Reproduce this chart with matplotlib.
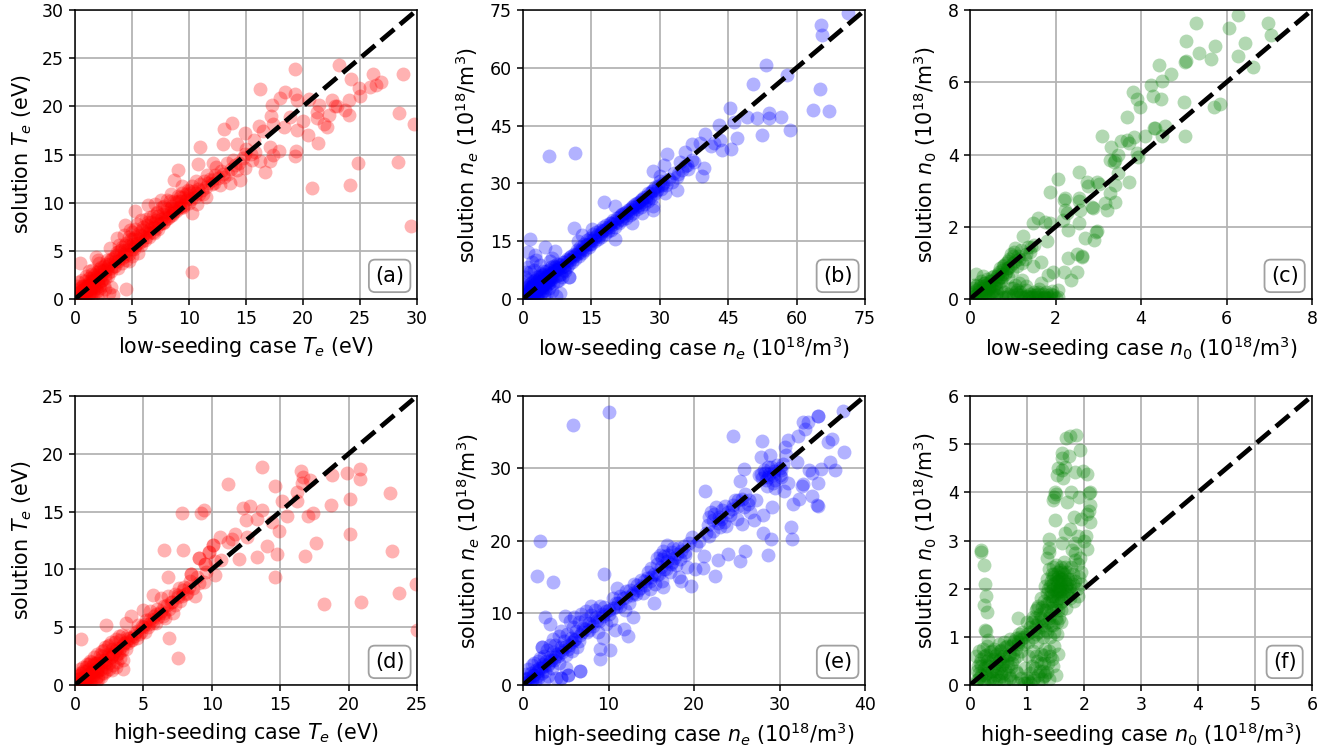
import matplotlib
matplotlib.use('Agg')
import matplotlib.pyplot as plt

# points: (reference case, solution)
te_low = [(0.2,0.3),(0.3,0.1),(0.4,0.5),(0.5,0.3),(0.5,0.8),(0.6,0.2),(0.7,0.6),(0.8,1.0),(0.8,0.3),(0.9,0.7),
(1.0,1.2),(1.0,0.4),(1.1,0.9),(1.2,1.5),(1.2,0.6),(1.3,1.1),(1.4,1.8),(1.4,0.3),(1.5,1.3),(1.6,2.0),(1.6,0.8),
(1.7,1.5),(1.8,2.3),(1.8,1.1),(1.9,0.2),(2.0,1.8),(2.0,2.6),(2.1,1.4),(2.2,2.2),(2.2,3.0),(2.3,0.5),(2.4,2.0),
(2.4,2.9),(2.5,3.4),(2.6,2.5),(2.6,1.0),(2.8,3.1),(2.8,4.0),(2.9,2.4),(3.0,3.6),(3.0,0.6),(3.2,2.9),(3.2,4.2),
(3.4,3.4),(3.3,0.4),(3.2,1.2),(0.4,3.7),(0.3,1.8),(0.2,1.3),(0.6,2.0),(1.0,2.4),(1.5,3.0),(1.8,4.4),(2.1,3.7),
(2.0,4.1),(1.2,2.9),(3.5,3.9),(3.6,4.6),(3.8,3.2),(3.9,4.3),(4.0,5.1),(4.1,3.7),(4.3,4.7),(4.4,5.6),(4.5,4.0),
(4.6,5.1),(4.7,3.9),(4.9,5.5),(5.0,4.5),(5.1,6.2),(5.2,5.2),(5.4,5.8),(5.5,4.8),(5.6,6.9),(5.8,5.6),(5.0,7.0),
(5.3,9.1),(4.4,7.7),(3.7,6.3),(3.1,5.3),(4.5,1.0),(3.9,5.6),(4.7,6.4),(4.3,6.6),(5.3,7.3),(5.9,6.5),(6.0,7.5),
(6.1,6.1),(6.3,7.0),(6.4,8.0),(6.5,6.4),(6.7,7.4),(6.8,8.6),(6.9,6.9),(7.0,7.9),(7.2,9.0),(7.3,7.3),(7.5,8.3),
(7.6,9.6),(7.8,8.0),(8.0,9.0),(8.1,10.3),(8.2,8.4),(8.4,9.4),(8.5,8.7),(8.7,10.2),(8.8,9.2),(9.0,10.7),(9.1,9.6),
(9.3,10.2),(9.4,11.0),(9.5,9.5),(9.7,10.3),(9.9,11.3),(10.0,10.0),(10.1,11.0),(10.3,8.9),(10.3,11.7),(10.5,10.6),
(10.7,9.9),(10.8,11.4),(11.0,11.9),(11.2,10.9),(11.5,10.6),(11.6,12.9),(11.7,12.0),(12.0,11.9),(12.3,12.9),
(12.7,11.8),(13.0,13.0),(13.3,14.1),(13.6,12.0),(13.9,14.4),(14.2,13.4),(12.1,14.1),(6.4,9.8),(7.0,9.9),(7.5,10.3),
(8.3,10.2),(9.2,10.6),(10.0,11.2),(10.8,14.0),(9.0,13.4),(8.7,12.4),(14.5,12.4),(14.9,13.6),(15.5,14.4),(16.2,14.3),
(16.7,13.2),(17.1,14.3),(17.4,15.0),(17.9,15.4),(17.1,15.8),(15.7,16.5),(14.9,15.1),(19.4,15.4),(19.3,14.8),
(21.3,16.2),(20.4,17.0),(22.1,17.9),(19.5,17.5),(14.9,17.2),(16.5,17.4),(18.3,17.9),(20.0,18.5),(21.8,18.2),
(21.2,18.8),(21.2,19.4),(22.3,19.1),(24.0,19.1),(23.7,19.6),(22.8,20.0),(22.5,20.7),(21.4,20.1),(20.5,20.8),
(19.5,20.7),(19.3,21.3),(18.4,21.5),(18.0,20.9),(17.3,20.1),(17.2,19.0),(18.9,18.9),(17.4,18.2),(16.1,18.0),
(13.8,18.3),(13.1,17.6),(13.0,16.1),(14.2,16.1),(11.0,15.8),(16.2,21.8),(19.3,23.9),(23.2,24.3),(26.1,23.4),
(26.8,22.5),(24.2,22.8),(25.9,22.0),(24.9,21.9),(25.0,21.1),(24.0,20.7),(23.0,20.0),(26.4,22.2),(28.8,23.4),
(28.4,19.3),(29.7,18.2),(28.3,14.2),(29.5,7.6),(24.1,11.8),(24.8,14.1),(20.8,11.5),(10.3,2.8)]
# the solid part of the cloud in (a)
te_low_dense = [(0.3,0.6),(0.6,0.9),(0.7,1.3),(0.9,1.4),(1.1,1.6),(1.3,1.9),(1.5,2.2),(1.7,2.5),(1.9,2.8),(2.1,3.1),
(2.3,3.3),(2.5,3.0),(2.7,3.6),(2.9,3.4),(3.1,3.9),(3.3,4.3),(3.5,4.4),(3.7,4.9),(3.9,5.0),(4.1,5.4),(4.3,5.1),
(4.5,5.8),(4.7,5.6),(4.9,6.2),(5.1,5.7),(5.3,6.4),(5.5,6.2),(5.7,6.6),(5.9,7.2),(6.1,6.9),(6.3,7.7),(6.5,7.2),
(6.7,8.0),(6.9,7.5),(7.1,8.2),(7.3,8.6),(7.5,7.9),(7.7,8.8),(7.9,8.5),(8.1,9.3),(8.3,8.9),(8.5,9.7),(8.7,9.3),
(8.9,10.1),(9.1,10.2),(9.3,9.7),(9.5,10.6),(9.7,10.9),(9.9,10.5),(10.2,10.4),(10.4,11.2),(10.6,11.0),(10.9,10.9),
(11.1,11.3),(11.3,12.3),(11.5,11.6),(11.8,12.5),(12.0,12.4),(12.2,12.0),(12.5,12.6),(12.8,13.3),(13.1,12.7),(13.4,13.0),
(13.7,13.5),(14.0,13.9),(14.4,14.1),(14.7,14.6),(15.0,15.6),(15.4,15.1),(15.8,15.3),(1.0,0.7),(1.4,1.0),(1.7,1.2),
(2.0,1.6),(2.3,1.9),(2.6,2.2),(2.9,2.7),(3.2,3.2),(3.5,3.4),(3.8,3.9),(4.1,4.3),(4.4,4.5),(4.7,4.7),(5.0,5.2),
(5.3,5.5),(5.6,5.8),(5.9,6.0),(6.2,6.4),(6.5,6.8),(6.8,7.0),(7.1,7.4),(7.4,7.8),(7.7,7.9),(8.0,8.3),(8.3,8.6),
(8.6,8.9),(8.9,9.1),(9.2,9.4),(9.6,9.8),(0.2,0.9),(0.4,1.1),(0.6,1.4),(0.9,1.9),(1.2,2.2),(1.5,2.6),(0.5,0.1),(0.8,0.6),
(1.1,0.2),(1.3,0.6),(1.6,0.4),(1.9,0.8),(2.2,1.1),(2.5,1.5),(1.1,1.3),(1.4,1.5),(1.7,1.9),(2.0,2.2),(2.3,2.5),(2.6,2.9),
(6.2,8.3),(6.6,8.5),(7.2,8.9),(7.8,9.7),(5.4,7.8),(5.8,8.2),(4.8,7.2),(8.4,10.9),(9.4,11.7),(10.6,12.2),(12.4,13.7)]

ne_low = [(0.2,0.5),(0.4,0.2),(0.5,1.0),(0.6,0.4),(0.8,1.3),(0.9,0.3),(1.0,2.0),(1.1,0.9),(1.2,1.6),(1.3,0.5),
(1.4,2.5),(1.5,1.2),(1.6,2.0),(1.7,0.6),(1.8,3.0),(1.9,1.6),(2.0,2.6),(2.1,0.8),(2.2,3.6),(2.3,1.9),(2.4,2.9),
(2.5,1.2),(2.6,4.0),(2.7,2.3),(2.8,3.3),(2.9,0.7),(3.0,4.8),(3.1,2.6),(3.2,3.8),(3.3,1.4),(3.4,5.2),(3.5,3.0),
(3.6,4.3),(3.7,0.9),(3.8,5.8),(3.9,3.3),(4.0,4.8),(4.1,1.8),(4.2,6.3),(4.3,3.7),(4.4,5.2),(4.5,1.1),(4.6,6.6),
(4.7,4.2),(4.8,5.6),(4.9,2.3),(5.0,7.2),(5.1,4.6),(5.2,6.0),(5.3,1.5),(5.5,6.4),(5.6,4.9),(5.7,7.6),(5.8,2.8),
(6.0,6.8),(6.1,5.2),(6.2,8.3),(6.3,2.0),(6.5,7.2),(6.6,5.6),(6.8,8.6),(7.0,7.4),(7.2,6.0),(7.4,9.0),(7.6,7.8),
(7.8,6.2),(8.0,9.2),(8.2,1.6),(8.2,8.1),(8.4,6.6),(8.7,9.6),(9.0,8.6),(9.3,7.2),(9.6,10.4),(10.0,9.0),(10.0,5.8),
(10.4,10.8),(10.8,9.6),(11.1,11.8),(11.5,10.4),(11.8,12.6),(12.2,11.2),(12.6,13.4),(13.0,12.0),(13.3,14.3),
(13.7,12.8),(14.0,15.2),(14.4,13.6),(14.8,15.8),(15.0,14.2),(15.3,16.8),(15.7,15.0),(16.0,17.4),(16.4,15.6),
(16.8,18.0),(17.2,16.2),(17.6,18.6),(18.0,16.8),(18.3,19.2),(18.7,17.6),(19.0,19.8),(19.4,18.0),(19.8,20.4),
(20.2,18.8),(20.6,21.0),(21.0,19.6),(21.4,21.8),(21.8,20.4),(22.2,22.4),(22.6,21.0),(23.0,23.2),(23.4,21.8),
(23.8,24.0),(24.2,22.4),(24.6,24.6),(25.0,23.4),(25.4,25.2),(25.8,24.0),(26.2,26.0),(26.6,24.6),(27.0,26.6),
(27.4,25.4),(27.8,27.4),(28.2,26.2),(28.6,28.4),(29.0,27.6),(29.6,29.4),(30.2,28.6),(30.8,30.0),(31.4,29.6),
(32.0,31.2),(32.6,30.4),(33.2,32.6),(34.0,32.4),(34.8,33.6),(35.6,34.6),(36.2,33.8),(37.0,36.0),(11.1,18.3),
(17.7,25.3),(20.2,24.1),(20.2,15.7),(23.9,19.8),(26.1,22.2),(28.6,23.1),(28.4,24.2),(5.8,37.1),(11.3,37.8),
(1.6,15.7),(4.9,13.6),(1.2,12.3),(7.1,12.5),(2.7,11.4),(2.0,9.7),(6.4,10.6),(1.6,7.1),(3.7,8.8),(6.0,9.8),
(1.2,5.0),(2.4,7.4),(10.0,5.8),(12.0,15.0),(13.0,16.6),(15.2,18.2),(28.6,33.3),(31.0,34.8),(31.5,37.6),(33.7,31.7),
(33.7,28.3),(31.2,27.6),(30.0,31.8),(35.6,38.2),(34.5,35.6),(37.4,35.6),(35.9,34.8),(39.6,33.9),(39.2,32.0),
(37.0,40.2),(38.9,40.4),(39.9,42.7),(41.8,40.4),(43.2,41.3),(41.2,39.6),(42.9,45.2),(43.6,38.7),(45.6,38.9),
(46.9,41.7),(46.3,46.0),(45.4,49.5),(49.2,47.3),(51.4,47.1),(54.0,47.1),(54.0,48.2),(56.5,47.3),(52.4,42.6),
(58.6,43.9),(50.4,55.7),(53.3,60.6),(58.0,58.1),(63.7,49.0),(67.0,48.9),(65.1,54.4),(65.5,68.5),(65.3,71.1),
(71.3,74.1)]
ne_low_dense = [(0.6,1.4),(1.0,1.2),(1.4,1.7),(1.8,2.2),(2.2,2.6),(2.6,3.0),(3.0,3.4),(3.4,3.8),(3.8,4.2),(4.2,4.6),
(4.6,5.0),(5.0,5.4),(5.4,5.8),(5.8,6.2),(6.2,6.6),(6.6,7.0),(7.0,8.2),(7.4,7.6),(7.8,8.4),(8.2,8.8),(8.6,8.2),
(9.0,9.6),(9.4,9.2),(9.8,10.2),(10.2,10.0),(10.6,11.2),(11.0,10.8),(11.4,11.4),(11.8,11.6),(12.2,12.4),(12.6,12.2),
(13.0,13.2),(13.4,13.0),(13.8,14.0),(14.2,14.4),(14.6,14.2),(15.0,15.4),(15.4,15.2),(15.8,16.2),(16.2,16.6),(16.6,16.4),
(17.0,17.2),(17.4,17.6),(17.8,17.8),(18.2,18.2),(18.6,18.8),(19.0,18.6),(19.4,19.6),(19.8,19.4),(20.2,20.2),(20.6,20.0),
(21.0,21.2),(21.4,20.8),(21.8,22.0),(22.2,21.6),(22.6,22.6),(23.0,22.4),(23.4,23.4),(23.8,23.0),(24.2,24.2),(24.6,23.8),
(25.0,25.0),(25.4,24.4),(25.8,25.8),(26.2,25.2),(26.6,26.6),(27.0,25.8),(27.4,27.4),(27.8,26.6),(28.2,28.0),(29.0,29.0),
(29.4,28.2),(30.0,30.6),(30.4,29.6),(1.0,3.0),(1.4,3.6),(1.8,4.2),(2.2,4.6),(2.6,5.0),(3.0,5.6),(3.4,6.0),(3.8,6.8),
(4.4,7.2),(0.4,1.8),(0.8,2.4),(1.2,0.3),(1.8,0.5),(2.4,0.4),(3.0,0.3),(3.6,1.7),(4.2,2.8),(4.8,3.2),(5.4,3.8),(6.0,4.4),
(6.6,4.2),(7.2,0.9),(0.3,3.6),(0.5,5.6),(0.7,7.0),(1.0,8.2),(2.9,10.2),(7.4,4.6),(7.8,5.0),(8.6,5.8),(9.0,7.4),(9.6,8.2),
(2.0,3.4),(2.4,4.2),(2.8,2.0),(3.2,2.4),(3.6,2.8),(4.0,3.2),(4.4,3.6),(4.8,4.0),(5.2,4.4),(5.6,5.0),(6.0,5.6),(6.4,6.0)]

n0_low = [(0.05,0.05),(0.1,0.2),(0.1,0.4),(0.15,0.1),(0.15,0.7),(0.2,0.3),(0.2,0.05),(0.25,0.5),(0.25,0.15),(0.3,0.35),
(0.3,0.65),(0.35,0.1),(0.35,0.45),(0.4,0.25),(0.4,0.55),(0.45,0.35),(0.45,0.05),(0.5,0.5),(0.5,0.2),(0.55,0.65),
(0.55,0.35),(0.6,0.45),(0.6,0.1),(0.65,0.7),(0.65,0.55),(0.7,0.3),(0.7,0.85),(0.7,0.6),(0.75,0.05),(0.75,0.7),
(0.8,0.95),(0.8,0.2),(0.85,0.75),(0.85,0.05),(0.9,1.05),(0.9,0.85),(0.9,0.15),(0.95,0.3),(1.0,1.0),(1.0,0.1),
(1.0,1.2),(1.05,0.4),(1.05,1.4),(1.1,0.9),(1.1,0.05),(1.1,0.25),(1.15,1.1),(1.15,0.45),(1.2,1.35),(1.2,0.12),
(1.21,0.53),(1.25,1.74),(1.25,0.05),(1.3,1.25),(1.3,0.25),(1.35,1.45),(1.35,0.08),(1.4,0.15),(1.4,1.3),(1.45,0.05),
(1.48,0.9),(1.48,2.09),(1.5,0.2),(1.5,1.5),(1.55,0.1),(1.6,2.23),(1.6,0.05),(1.66,0.43),(1.66,1.03),(1.7,0.15),
(1.75,0.06),(1.76,2.14),(1.8,1.6),(1.8,0.1),(1.83,0.66),(1.87,2.09),(1.9,0.05),(1.95,0.76),(1.95,0.12),(2.0,0.04),
(2.05,0.25),(2.07,0.06),(2.19,0.76),(2.36,0.53),(2.51,0.74),(2.29,1.13),(2.5,1.25),(2.61,1.19),(2.61,1.15),(2.69,1.7),
(2.91,1.63),(2.97,1.88),(2.95,1.85),(2.3,1.91),(2.55,2.11),(2.18,2.2),(2.22,2.46),(2.26,2.38),(2.58,2.46),(2.85,2.56),
(2.88,2.52),(3.16,2.65),(3.2,2.45),(3.39,2.69),(3.28,2.93),(3.39,3.16),(3.73,3.25),(2.19,2.74),(2.22,2.8),(2.54,2.79),
(2.56,2.72),(1.86,2.97),(2.07,3.32),(2.54,3.51),(2.73,3.25),(2.77,3.13),(2.97,3.25),(3.02,3.18),(3.47,3.48),(3.28,3.85),
(3.39,3.85),(3.36,3.78),(3.47,4.0),(3.9,4.03),(3.93,3.94),(3.3,4.22),(3.08,4.51),(3.54,4.37),(3.71,4.33),(3.68,4.4),
(3.84,4.48),(4.1,4.51),(4.31,4.74),(4.33,4.72),(4.55,4.79),(4.5,4.52),(5.03,4.52),(3.67,5.05),(3.82,5.74),(3.9,5.54),
(3.98,5.32),(4.27,5.63),(4.46,5.54),(4.24,5.92),(4.5,6.03),(4.71,6.23),(4.43,6.48),(5.0,5.46),(5.7,5.32),(5.85,5.39),
(5.03,6.57),(5.05,6.6),(5.35,6.8),(5.64,6.63),(6.28,6.73),(6.62,6.43),(5.05,7.14),(5.74,7.0),(6.44,7.08),(5.29,7.63),
(6.05,7.49),(6.27,7.86),(6.97,7.63),(7.05,7.31)]
n0_low_dense = [(0.06,0.15),(0.08,0.3),(0.12,0.08),(0.14,0.25),(0.16,0.4),(0.18,0.15),(0.22,0.22),(0.24,0.35),(0.26,0.08),
(0.28,0.25),(0.3,0.15),(0.32,0.45),(0.34,0.3),(0.36,0.2),(0.38,0.4),(0.42,0.12),(0.44,0.3),(0.46,0.5),(0.48,0.1),(0.5,0.35),
(0.52,0.6),(0.54,0.22),(0.56,0.05),(0.58,0.55),(0.6,0.3),(0.62,0.65),(0.64,0.18),(0.66,0.42),(0.68,0.75),(0.72,0.5),
(0.74,0.8),(0.76,0.6),(0.78,0.9),(0.82,0.7),(0.84,1.0),(0.86,0.85),(0.88,0.62),(0.92,1.1),(0.94,0.9),(0.96,1.25),(0.98,0.78),
(1.02,1.3),(1.06,1.05),(1.08,0.2),(1.12,1.2),(1.16,0.18),(1.22,1.0),(1.28,1.1),(1.32,0.35),(1.38,0.04),(1.42,1.45),(1.52,0.05),
(1.58,0.14),(1.62,0.28),(1.72,0.05),(1.78,0.2),(1.85,0.03),(1.92,0.22),(0.8,0.05),(0.9,0.08),(1.0,0.3),(1.1,0.15),(1.2,0.06),
(1.3,0.08),(1.4,0.05),(1.5,0.12),(1.6,0.18),(1.7,0.04),(1.8,0.04),(1.9,0.14)]

te_high = [(0.1,0.2),(0.2,0.5),(0.2,0.1),(0.3,0.9),(0.3,0.3),(0.4,0.6),(0.4,1.4),(0.5,0.2),(0.5,1.0),(0.6,0.5),(0.6,1.6),
(0.7,0.8),(0.7,0.2),(0.8,1.2),(0.8,0.5),(0.9,1.8),(0.9,0.9),(1.0,0.3),(1.0,1.4),(1.1,0.7),(1.1,2.1),(1.2,1.1),
(1.2,0.4),(1.3,1.7),(1.3,0.9),(1.4,2.4),(1.4,1.3),(1.5,0.6),(1.5,1.9),(1.6,1.1),(1.6,2.7),(1.7,1.6),(1.7,0.8),
(1.8,2.2),(0.45,4.0),(1.9,1.4),(2.0,2.5),(2.0,1.0),(2.1,1.8),(2.1,3.0),(2.2,2.2),(2.3,5.2),(2.3,1.6),(2.4,2.7),
(2.5,1.9),(2.5,3.5),(2.6,2.4),(2.7,1.3),(2.7,3.1),(2.8,2.7),(2.9,3.7),(3.0,2.4),(3.0,1.6),(3.1,3.2),(3.2,2.8),
(3.3,3.9),(3.4,3.0),(3.5,1.4),(3.5,2.2),(3.6,3.6),(3.7,5.4),(3.7,3.1),(3.8,4.2),(3.9,3.6),(4.1,6.0),(4.0,4.1),
(4.2,3.9),(4.4,4.5),(4.5,4.1),(4.6,5.2),(4.8,4.6),(5.0,6.5),(5.0,5.0),(5.1,4.6),(5.2,5.6),(5.4,5.3),(5.5,6.4),
(5.6,5.6),(5.7,7.8),(5.8,6.0),(5.9,5.4),(6.0,6.6),(6.2,6.2),(6.3,7.5),(6.4,6.0),(6.5,6.8),(6.6,5.8),(6.8,7.7),
(6.9,4.1),(6.8,9.3),(7.0,7.2),(7.2,6.2),(7.3,7.9),(7.5,2.3),(7.5,7.6),(7.6,8.4),(7.8,7.7),(8.0,8.5),(8.2,8.0),
(8.4,9.0),(8.5,9.6),(8.6,8.4),(8.8,7.7),(8.9,9.3),(9.1,11.0),(9.1,8.8),(9.4,8.9),(9.5,10.5),(9.6,9.8),(9.8,11.5),
(10.1,12.1),(10.2,10.7),(10.2,9.5),(10.6,12.8),(10.7,10.8),(11.2,12.4),(11.2,17.4),(11.5,12.6),(11.7,13.1),(12.0,10.9),
(12.3,15.3),(12.5,14.3),(12.6,12.8),(12.8,15.5),(13.3,14.4),(13.3,11.1),(13.7,18.9),(13.7,15.1),(14.0,12.0),(14.4,14.1),
(14.6,17.2),(14.6,9.3),(14.8,11.3),(14.9,13.3),(15.1,15.9),(15.5,14.6),(16.2,16.7),(16.2,15.9),(16.5,18.5),(16.6,17.5),
(16.7,18.0),(16.8,11.2),(17.0,14.6),(17.2,17.7),(17.4,14.9),(17.6,12.3),(18.7,15.6),(18.8,18.2),(18.2,7.0),(19.9,18.3),
(20.1,16.1),(20.1,13.1),(20.8,18.7),(20.8,17.8),(20.9,7.2),(23.0,16.6),(23.2,11.6),(23.7,8.0),(24.9,8.7),(25.0,4.8),
(7.8,14.9),(9.2,14.9),(9.4,15.1),(6.5,11.7),(7.9,11.7),(9.1,11.0),(9.5,10.5),(10.1,12.1),(9.8,11.5),(8.5,9.6)]
te_high_dense = [(0.3,0.5),(0.5,0.6),(0.7,0.5),(0.9,0.6),(1.1,1.0),(1.3,1.3),(1.5,1.2),(1.7,1.3),(1.9,1.9),(2.1,2.2),
(2.3,2.0),(2.5,2.6),(2.7,2.5),(2.9,2.9),(3.1,2.7),(3.3,3.2),(3.5,3.5),(3.7,3.7),(3.9,4.1),(4.1,3.9),(4.3,4.2),(4.5,4.7),
(4.7,4.4),(4.9,5.1),(5.1,5.3),(5.3,5.0),(5.5,5.7),(5.7,5.4),(5.9,6.1),(6.1,5.9),(6.3,6.4),(6.5,6.2),(6.7,6.9),(6.9,6.6),
(7.1,7.2),(7.3,6.9),(7.5,7.8),(7.7,7.3),(7.9,8.2),(8.1,7.9),(8.3,8.5),(0.2,0.8),(0.4,1.0),(0.6,1.2),(0.8,1.6),(1.0,1.8),
(1.2,2.0),(1.4,1.9),(1.6,1.9),(1.8,2.6),(2.0,2.9),(2.2,3.3),(2.4,3.4),(2.6,3.7),(3.0,4.0),(3.2,4.2),(3.4,4.3),(0.6,0.1),
(0.9,0.3),(1.1,0.2),(1.3,0.5),(1.5,0.3),(1.7,0.5),(1.9,0.7),(2.1,1.0),(2.3,1.2),(2.5,1.4),(2.8,1.7),(3.1,2.0),(3.3,2.3)]

ne_high = [(0.2,0.3),(0.3,0.8),(0.4,1.5),(0.5,0.4),(0.6,2.2),(0.7,1.0),(0.8,0.3),(0.9,1.7),(1.0,2.7),(1.1,0.7),(1.2,1.4),
(1.3,3.0),(1.4,0.5),(1.5,2.1),(1.6,1.2),(1.7,3.3),(1.8,0.9),(1.9,2.4),(2.0,3.8),(2.2,5.2),(2.2,1.6),(2.3,2.9),
(2.4,0.6),(2.5,4.0),(2.6,2.0),(2.7,3.3),(2.8,4.8),(2.9,1.3),(3.0,3.0),(3.1,5.6),(3.2,3.9),(3.4,2.4),(3.5,6.3),(3.5,4.5),
(3.6,3.4),(3.8,5.5),(3.9,1.0),(4.0,4.3),(4.2,6.8),(4.2,3.0),(4.4,5.3),(4.4,0.9),(4.5,7.5),(4.6,4.6),(4.8,6.1),
(5.0,2.3),(5.0,4.2),(5.2,7.0),(5.3,1.4),(5.4,5.6),(5.5,8.8),(5.6,6.5),(5.7,4.7),(5.8,8.0),(6.0,9.4),(6.0,6.2),
(6.2,7.5),(6.3,5.3),(6.5,8.7),(6.7,1.9),(6.7,6.9),(6.8,9.8),(7.0,7.9),(7.2,9.0),(7.4,10.2),(7.5,7.4),(7.7,8.6),
(7.9,9.7),(8.0,11.0),(8.2,8.2),(8.4,10.4),(8.6,9.0),(8.8,7.4),(9.0,11.0),(9.0,3.6),(9.0,5.0),(9.2,9.8),(9.3,6.5),
(9.5,10.8),(9.5,15.4),(9.7,8.4),(10.0,10.4),(10.2,4.8),(10.3,9.0),(10.5,12.0),(10.8,7.6),(10.9,10.8),(11.0,13.4),
(11.1,11.4),(11.4,12.3),(11.8,7.8),(11.9,10.4),(12.0,13.0),(12.3,6.8),(12.4,11.4),(12.7,12.4),(12.9,9.4),(13.0,14.0),
(13.2,12.6),(13.5,13.2),(13.8,14.6),(14.0,12.7),(14.3,13.9),(14.6,15.6),(14.8,13.3),(15.0,15.0),(15.3,11.4),(15.4,14.0),
(15.7,16.8),(15.9,15.3),(16.2,14.4),(16.4,13.6),(16.5,17.8),(16.7,16.0),(17.0,18.0),(17.2,15.6),(17.4,17.0),(17.6,19.0),
(17.9,16.6),(18.0,18.2),(18.2,15.0),(18.4,17.4),(18.5,14.4),(18.8,19.2),(19.0,18.0),(19.2,16.4),(19.4,19.6),(19.6,13.7),
(19.8,20.5),(20.1,16.1),(20.2,19.4),(20.6,20.0),(21.1,16.2),(21.2,17.9),(21.3,26.9),(21.4,21.0),(21.6,22.2),(21.8,20.6),
(22.0,24.0),(22.2,22.8),(22.2,21.3),(22.5,15.1),(22.6,24.6),(22.8,17.3),(22.9,23.2),(23.0,21.9),(23.3,24.2),(23.5,22.6),
(23.8,22.0),(24.0,18.2),(24.2,23.5),(24.6,34.5),(24.6,24.9),(25.0,23.0),(25.2,25.6),(25.4,28.3),(25.4,17.1),(25.6,22.3),
(25.8,29.9),(25.9,24.6),(26.0,18.5),(26.3,25.0),(26.6,24.0),(27.0,22.8),(27.3,25.6),(27.6,29.0),(27.8,31.6),(27.9,33.8),
(28.1,23.5),(28.1,21.1),(28.2,29.8),(28.4,28.4),(28.6,18.0),(28.6,30.2),(28.8,29.2),(28.9,31.9),(29.0,20.2),(29.1,24.7),
(29.2,28.0),(29.4,29.6),(29.5,27.2),(30.0,30.0),(30.2,28.8),(30.5,26.8),(30.7,33.0),(30.8,31.8),(31.0,33.9),(31.0,27.9),
(31.4,21.9),(31.5,20.2),(31.6,25.1),(32.0,30.9),(32.2,34.4),(32.3,25.8),(32.6,27.5),(32.7,36.4),(32.8,27.8),(33.0,35.4),
(33.3,36.4),(33.5,29.7),(33.8,29.3),(33.8,26.1),(34.5,37.3),(34.5,37.2),(34.5,28.0),(34.5,24.8),(34.4,24.9),(34.9,29.9),
(35.7,33.6),(35.9,30.8),(36.1,34.1),(36.5,29.7),(37.4,37.9),(37.6,32.2),(5.8,36.0),(10.1,37.8),(2.0,19.9),(1.6,15.1),
(3.5,14.3),(2.6,9.4),(3.2,8.4),(4.9,9.6),(2.2,5.2),(6.7,1.9),(5.3,1.4),(4.4,0.9)]
ne_high_dense = [(0.5,0.9),(0.9,0.6),(1.3,1.4),(1.7,1.9),(2.1,2.3),(2.5,2.6),(2.9,2.8),(3.3,3.4),(3.7,3.9),(4.1,4.0),(4.5,4.8),
(4.9,5.3),(5.3,5.0),(5.7,5.9),(6.1,6.3),(6.5,6.1),(6.9,7.4),(7.3,7.7),(7.7,7.6),(8.1,8.6),(8.5,9.4),(8.9,8.9),(9.3,9.5),
(9.7,10.2),(10.1,9.8),(10.5,10.6),(10.9,11.4),(11.3,11.0),(11.7,12.0),(12.1,12.2),(12.5,13.2),(12.9,12.8),(13.3,13.8),
(13.7,13.4),(14.1,14.4),(14.5,14.8),(14.9,14.4),(15.3,15.4),(15.7,15.2),(16.1,16.4),(16.5,16.0),(16.9,17.2),(17.3,16.8),
(17.7,17.6),(18.1,19.0),(18.5,18.6),(18.9,18.4),(21.8,23.2),(22.3,23.7),(22.8,22.4),(23.2,23.0),(23.6,24.8),(24.0,24.0),
(24.4,24.4),(24.8,25.6),(25.2,24.8),(25.6,25.8),(26.0,26.4),(26.4,25.6),(27.8,29.2),(28.0,28.6),(28.3,29.4),(28.5,27.6),
(28.7,28.8),(29.0,30.2),(29.2,29.0),(29.5,28.4),(29.7,30.4),(30.0,29.0),(30.2,29.8),(30.4,30.6),(16.0,18.0),(16.4,18.6),
(16.9,19.4),(17.4,18.4),(16.2,17.4),(15.7,17.6),(15.0,16.2)]

n0_high = [(0.1,0.05),(0.1,0.6),(0.12,0.3),(0.15,0.7),(0.15,0.15),(0.18,0.45),(0.2,0.55),(0.2,0.2),(0.22,0.75),(0.25,0.35),
(0.25,0.05),(0.28,0.62),(0.3,0.25),(0.3,0.5),(0.3,0.8),(0.32,0.4),(0.35,0.12),(0.35,0.68),(0.38,0.3),(0.4,0.55),
(0.4,0.05),(0.42,0.75),(0.45,0.2),(0.45,0.45),(0.48,0.65),(0.5,0.35),(0.5,0.1),(0.5,0.85),(0.52,0.55),(0.55,0.25),
(0.55,0.72),(0.58,0.45),(0.6,0.9),(0.6,0.05),(0.6,0.6),(0.62,0.32),(0.65,0.8),(0.65,0.5),(0.68,0.2),(0.7,0.95),
(0.7,0.65),(0.72,0.38),(0.75,0.85),(0.75,0.08),(0.78,0.55),(0.8,0.98),(0.8,0.75),(0.82,0.25),(0.85,0.05),(0.85,0.9),
(0.88,1.0),(0.9,0.7),(0.9,0.15),(0.92,1.1),(0.95,0.85),(0.95,0.05),(0.97,0.35),(1.0,1.05),(1.0,1.3),(1.0,0.15),
(1.02,0.6),(1.02,0.9),(1.05,0.05),(1.05,1.2),(1.08,0.4),(1.1,1.42),(1.1,1.0),(1.1,0.7),(1.12,0.15),(1.15,1.55),
(1.15,1.25),(1.18,0.5),(1.18,0.9),(1.2,0.05),(1.2,1.65),(1.2,1.1),(1.22,0.3),(1.25,1.4),(1.25,0.65),(1.25,1.8),
(1.28,1.0),(1.3,0.18),(1.3,1.55),(1.3,0.45),(1.3,1.25),(1.32,0.75),(1.35,1.7),(1.35,0.28),(1.35,1.1),(1.38,1.4),
(1.4,1.85),(1.4,0.6),(1.4,1.0),(1.42,1.6),(1.45,0.4),(1.45,1.25),(1.45,2.0),(1.48,0.8),(1.5,1.75),(1.5,1.4),(1.5,0.2),
(1.5,2.2),(1.52,1.05),(1.52,1.9),(1.55,2.35),(1.55,1.55),(1.55,0.65),(1.58,2.05),(1.6,1.3),(1.6,1.8),(1.6,2.45),
(1.62,2.2),(1.65,1.95),(1.65,2.55),(1.68,1.6),(1.7,2.1),(1.7,2.35),(1.72,1.85),(1.75,2.2),(1.75,2.05),(1.78,1.9),
(1.8,2.3),(1.82,1.75),(1.85,2.15),(1.88,2.0),(1.9,1.85),(1.92,2.25),(1.95,2.1),(1.35,2.2),(1.38,2.4),(1.32,2.05),(1.42,2.15),
(1.45,2.45),(1.48,2.3),(1.55,2.15),(1.58,1.95),(1.42,1.95),(1.62,2.0),(1.52,2.05),(1.6,2.25),(1.65,2.3),(1.35,1.9),
(0.19,2.8),(0.2,2.77),(0.25,2.5),(0.26,2.1),(0.28,1.85),(0.25,1.66),(0.3,1.51),(0.28,1.12),(0.27,1.14),(0.32,0.93),(0.85,1.4),
(1.86,5.19),(1.76,5.16),(1.68,5.13),(1.93,4.88),(1.61,4.81),(1.74,4.75),(1.62,4.72),(1.66,4.53),(1.55,4.5),(1.61,4.46),
(1.52,4.37),(1.64,4.29),(1.84,4.42),(1.99,4.44),(2.06,4.39),(1.49,4.0),(1.48,3.91),(1.46,3.84),(1.5,3.97),(1.77,4.01),
(2.11,4.01),(2.09,3.98),(1.91,3.91),(1.71,3.79),(2.11,3.74),(2.08,3.61),(2.06,3.55),(1.83,3.48),(1.95,3.44),(1.49,3.43),
(2.11,3.39),(1.76,3.23),(1.66,3.15),(2.03,3.1),(2.0,3.0),(1.39,3.03),(1.61,2.94),(1.39,2.84),(1.38,2.77),(1.35,2.63),(1.79,2.8),
(2.06,2.82),(1.93,2.63),(1.85,2.75),(1.9,2.52),(1.78,2.45),(1.95,2.35),(1.85,2.6),(1.9,3.1),(1.85,2.95)]
n0_high_dense = [(0.12,0.1),(0.14,0.4),(0.16,0.25),(0.2,0.4),(0.22,0.1),(0.24,0.6),(0.26,0.2),(0.28,0.42),(0.32,0.15),(0.34,0.55),
(0.36,0.3),(0.38,0.7),(0.4,0.15),(0.42,0.4),(0.44,0.6),(0.46,0.1),(0.48,0.3),(0.5,0.5),(0.52,0.7),(0.54,0.18),(0.56,0.42),
(0.58,0.6),(0.6,0.25),(0.62,0.78),(0.64,0.1),(0.66,0.4),(0.68,0.62),(0.7,0.15),(0.72,0.8),(0.74,0.45),(0.76,0.65),(0.78,0.92),
(0.8,0.3),(0.82,0.6),(0.84,0.85),(0.86,1.05),(0.9,0.95),(0.94,1.0),(0.98,0.05),(1.02,0.08),(1.06,0.25),(1.1,0.1),(1.14,0.35),
(1.16,0.6),(1.2,0.2),(1.24,0.45),(1.26,0.12),(1.28,0.3),(1.3,0.62),(1.32,0.2),(1.36,0.45),(1.38,0.12),(1.38,0.7),(1.44,0.55),
(1.05,1.1),(1.08,1.3),(1.12,1.15),(1.14,1.4),(1.16,1.05),(1.18,1.6),(1.2,1.3),(1.22,1.48),(1.24,1.2),(1.26,1.62),(1.28,1.35),
(1.3,1.75),(1.32,1.15),(1.34,1.55),(1.36,1.3),(1.38,1.72),(1.4,1.45),(1.42,1.25),(1.44,1.75),(1.46,1.55),(1.48,1.1),(1.5,1.6),
(1.52,1.3),(1.54,1.8),(1.56,1.4),(1.58,1.7),(1.6,2.1),(1.62,2.35),(1.64,1.85),(1.66,2.15),(1.68,2.05),(1.7,1.95),(1.44,2.3),
(1.46,2.1),(1.5,2.5),(1.54,2.25),(1.56,2.0),(1.58,2.38),(1.62,1.75),(1.66,2.45),(1.72,2.2),(1.74,2.0),(1.76,1.8),(1.8,2.1),
(1.4,2.05),(1.44,1.85),(1.46,2.25),(1.5,1.95),(1.52,2.15),(1.54,1.95),(1.58,2.2),(1.6,1.55),(1.48,1.85),(1.36,2.0)]

low_tests = [te_low + te_low_dense, ne_low + ne_low_dense, n0_low + n0_low_dense]
high_tests = [te_high + te_high_dense, ne_high + ne_high_dense, n0_high + n0_high_dense]
limits = [30, 75, 8, 25, 40, 6]
steps = [5, 15, 2, 5, 10, 1]
colors = ['red', 'blue', 'green']
names = ['$T_e$ (eV)', '$n_e$ ($10^{18}$/m$^3$)', '$n_0$ ($10^{18}$/m$^3$)']
short = ['$T_e$', '$n_e$', '$n_0$']
tags = ['(a)', '(b)', '(c)', '(d)', '(e)', '(f)']
cases = ['low-seeding case', 'high-seeding case']

fig = plt.figure(figsize=(13.36, 7.5), dpi=100)
lefts = [75, 523, 970]
tops = [10, 396]

k = 0
for row in range(2):
    for col in range(3):
        ax = fig.add_axes([lefts[col]/1336, 1 - (tops[row] + 289)/750, 342/1336, 289/750])
        pts = (low_tests + high_tests)[k]
        x = [p[0] for p in pts]
        y = [p[1] for p in pts]
        lim = limits[k]
        ax.grid(True, color='#b4b4b4', lw=1.3, zorder=0)
        ax.set_axisbelow(True)
        ax.scatter(x, y, s=100, color=colors[col], alpha=0.3, linewidths=0, zorder=2)
        ax.plot([0, lim], [0, lim], 'k--', lw=3.4, zorder=3)
        ax.set_xlim(0, lim)
        ax.set_ylim(0, lim)
        ticks = list(range(0, lim + 1, steps[k]))
        ax.set_xticks(ticks)
        ax.set_yticks(ticks)
        ax.tick_params(labelsize=12.5, length=4.5, width=1.1)
        for s in ax.spines.values():
            s.set_linewidth(1.1)
        ax.set_xlabel(cases[row] + ' ' + names[col], fontsize=14.9, labelpad=4.8)
        ax.set_ylabel('solution ' + short[col] + ' ' + names[col].split(' ', 1)[1], fontsize=14.9, labelpad=6)
        ax.text(0.92, 0.08, tags[k], transform=ax.transAxes, fontsize=15, ha='center', va='center', zorder=5,
                bbox=dict(boxstyle='round,pad=0.3', fc='white', ec='#a0a0a0', lw=1.3))
        k += 1

fig.savefig('out.png', dpi=100)
